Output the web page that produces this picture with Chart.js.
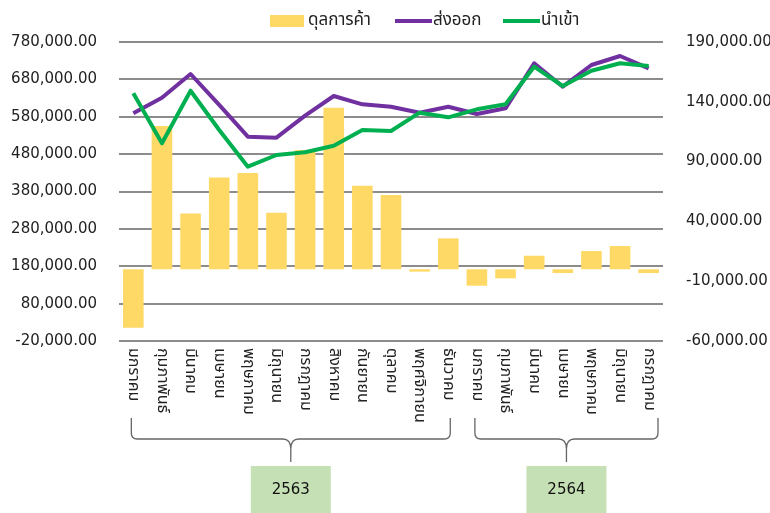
<!DOCTYPE html>
<html>
<head>
<meta charset="utf-8">
<script src="https://cdn.jsdelivr.net/npm/chart.js@4"></script>
<style>
  body { margin: 0; background: #fff; }
  canvas { display: block; }
</style>
</head>
<body>
<canvas id="chart" width="770" height="513"></canvas>
<script>
// months, two years
const months2563 = ['มกราคม', 'กุมภาพันธ์', 'มีนาคม', 'เมษายน', 'พฤษภาคม', 'มิถุนายน',
  'กรกฎาคม', 'สิงหาคม', 'กันยายน', 'ตุลาคม', 'พฤศจิกายน', 'ธันวาคม'];
const months2564 = ['มกราคม', 'กุมภาพันธ์', 'มีนาคม', 'เมษายน', 'พฤษภาคม', 'มิถุนายน', 'กรกฎาคม'];
const years = ['2563', '2564'];
const categories = months2563.concat(months2564);

// values
const tradeBalance = [-48900, 119700, 46700, 76800, 80400, 47200, 99700, 135000, 69800, 62000,
  -2000, 25800, -13800, -7600, 11300, -3200, 15200, 19400, -3200];
const exportsVal = [589200, 631000, 694400, 612000, 526700, 524000, 583000, 635500, 613300, 606900,
  590900, 606900, 587400, 602600, 723000, 660400, 718500, 742500, 709600];
const importsVal = [642700, 509000, 649700, 544500, 446300, 477700, 484900, 502500, 544500, 541900,
  590900, 578500, 599900, 613300, 714000, 662300, 703200, 723000, 715800];

const seriesNames = ['ดุลการค้า', 'ส่งออก', 'นำเข้า'];

const FONT = "Tahoma, 'DejaVu Sans', 'Noto Sans Thai', sans-serif";
const fmt = v => v.toLocaleString('en-US', { minimumFractionDigits: 2, maximumFractionDigits: 2 });

// legend drawn by hand so it can sit off-center like the original
const legendPlugin = {
  id: 'customLegend',
  afterDraw(chart) {
    const ctx = chart.ctx;
    const sets = chart.data.datasets;
    const slots = [270, 395, 503];
    ctx.save();
    ctx.font = '17px ' + FONT;
    ctx.textBaseline = 'middle';
    const y = 21;
    sets.forEach((ds, i) => {
      const x = slots[i];
      if (ds.type === 'bar') {
        ctx.fillStyle = ds.backgroundColor;
        ctx.fillRect(x, 15, 34, 12);
      } else {
        ctx.strokeStyle = ds.borderColor;
        ctx.lineWidth = 4;
        ctx.beginPath();
        ctx.moveTo(x, y);
        ctx.lineTo(x + 37, y);
        ctx.stroke();
      }
      ctx.fillStyle = '#222';
      ctx.fillText(ds.label, x + 38, y);
    });
    ctx.restore();
  }
};

// rotated month names, brackets and year boxes below the plot
const xLabelPlugin = {
  id: 'xLabels',
  afterDraw(chart) {
    const ctx = chart.ctx;
    const xs = chart.scales.x;
    const area = chart.chartArea;
    ctx.save();
    ctx.font = '16px ' + FONT;
    ctx.fillStyle = '#222';
    ctx.textAlign = 'left';
    ctx.textBaseline = 'middle';
    categories.forEach((m, i) => {
      ctx.save();
      ctx.translate(xs.getPixelForValue(i), area.bottom + 7);
      ctx.rotate(Math.PI / 2);
      ctx.fillText(m, 0, 0);
      ctx.restore();
    });

    const groups = [[0, months2563.length - 1], [months2563.length, categories.length - 1]];
    groups.forEach((g, gi) => {
      const left = xs.getPixelForValue(g[0]) - 2;
      const right = gi === groups.length - 1 ? area.right - 5 : xs.getPixelForValue(g[1]) + 2;
      const mid = (left + right) / 2;
      const top = 418, hy = 439, r = 6;
      ctx.strokeStyle = '#666';
      ctx.lineWidth = 1.3;
      ctx.beginPath();
      ctx.moveTo(left, top);
      ctx.lineTo(left, hy - r);
      ctx.quadraticCurveTo(left, hy, left + r, hy);
      ctx.lineTo(mid - 8, hy);
      ctx.quadraticCurveTo(mid, hy, mid, hy + 10);
      ctx.quadraticCurveTo(mid, hy, mid + 8, hy);
      ctx.lineTo(right - r, hy);
      ctx.quadraticCurveTo(right, hy, right, hy - r);
      ctx.lineTo(right, top);
      ctx.moveTo(mid, hy + 8);
      ctx.lineTo(mid, 462);
      ctx.stroke();

      ctx.fillStyle = '#c5e0b4';
      ctx.fillRect(mid - 40, 466, 80, 47);
      ctx.fillStyle = '#111';
      ctx.font = '15px ' + FONT;
      ctx.textAlign = 'center';
      ctx.fillText(years[gi], mid, 490);
      ctx.font = '16px ' + FONT;
      ctx.textAlign = 'left';
    });
    ctx.restore();
  }
};

new Chart(document.getElementById('chart'), {
  data: {
    labels: categories,
    datasets: [
      {
        type: 'bar',
        label: seriesNames[0],
        data: tradeBalance,
        yAxisID: 'y1',
        backgroundColor: '#ffd966',
        categoryPercentage: 1,
        barPercentage: 0.72,
        order: 2
      },
      {
        type: 'line',
        label: seriesNames[1],
        data: exportsVal,
        yAxisID: 'y',
        borderColor: '#7030a0',
        borderWidth: 4,
        pointRadius: 0,
        tension: 0,
        borderJoinStyle: 'round',
        order: 1
      },
      {
        type: 'line',
        label: seriesNames[2],
        data: importsVal,
        yAxisID: 'y',
        borderColor: '#00b050',
        borderWidth: 4,
        pointRadius: 0,
        tension: 0,
        borderJoinStyle: 'round',
        order: 0
      }
    ]
  },
  options: {
    responsive: false,
    animation: false,
    layout: { padding: { top: 42, left: 0, right: 0, bottom: 0 } },
    plugins: {
      legend: { display: false },
      tooltip: { enabled: false }
    },
    scales: {
      x: {
        offset: true,
        grid: { display: false },
        border: { display: false },
        ticks: { display: false },
        afterFit: s => { s.height = 172; }
      },
      y: {
        position: 'left',
        min: -20000,
        max: 780000,
        ticks: {
          stepSize: 100000,
          padding: 22,
          color: '#222',
          font: { size: 15, family: FONT },
          callback: v => fmt(v)
        },
        grid: { color: '#8c8c8c', lineWidth: 2, drawTicks: false },
        border: { display: false },
        afterFit: s => { s.width = 119; }
      },
      y1: {
        position: 'right',
        min: -60000,
        max: 190000,
        ticks: {
          stepSize: 50000,
          padding: 23,
          color: '#222',
          font: { size: 15, family: FONT },
          callback: v => fmt(v)
        },
        grid: { display: false, drawTicks: false },
        border: { display: false },
        afterFit: s => { s.width = 107; }
      }
    }
  },
  plugins: [legendPlugin, xLabelPlugin]
});
</script>
</body>
</html>
